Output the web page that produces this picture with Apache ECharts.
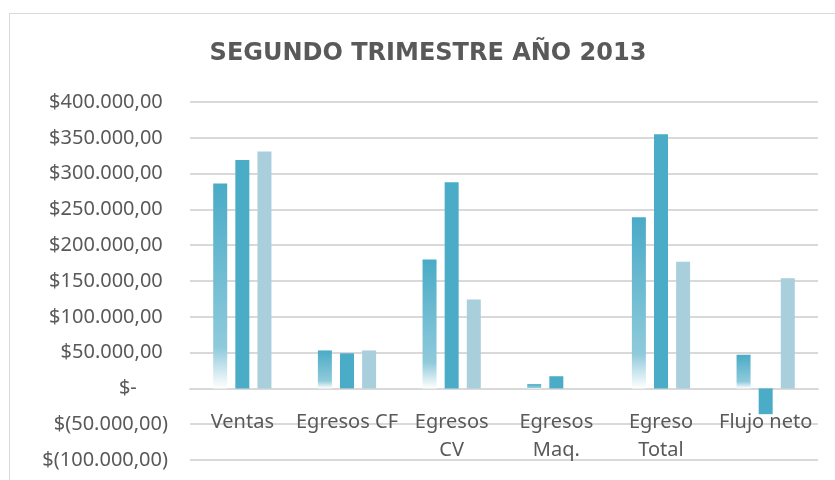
<!DOCTYPE html>
<html>
<head>
<meta charset="utf-8">
<script src="https://cdn.jsdelivr.net/npm/echarts@6/dist/echarts.min.js"></script>
<style>
  html, body { margin: 0; padding: 0; background: #fff; }
  #frame {
    position: absolute; left: 9px; top: 13px; width: 840px; height: 480px;
    border: 1px solid #d9d9d9; box-sizing: border-box;
  }
  #chart { position: absolute; left: 0; top: 0; width: 835px; height: 480px; }
</style>
</head>
<body>
<div id="frame"></div>
<div id="chart"></div>
<script>
// categorias y valores (tres meses del trimestre)
const categories = ['Ventas', 'Egresos CF', 'Egresos\nCV', 'Egresos\nMaq.', 'Egreso\nTotal', 'Flujo neto'];
const mes1 = [286000, 53000, 180000, 6000, 239000, 47000];
const mes2 = [319000, 49000, 288000, 17000, 355000, -36000];
const mes3 = [331000, 53000, 124000, 0, 177000, 154000];

function fmt(v) {
  if (v === 0) return '$-      ';
  const s = Math.abs(v).toString().replace(/\B(?=(\d{3})+(?!\d))/g, '.') + ',00';
  return v < 0 ? '$(' + s + ')' : '$' + s + ' ';
}

const chart = echarts.init(document.getElementById('chart'));
const labelFont = '"Noto Sans", "Open Sans", sans-serif';

chart.setOption({
  animation: false,
  title: {
    text: 'SEGUNDO TRIMESTRE AÑO 2013',
    left: 423, top: 37, textAlign: 'center',
    textStyle: { fontFamily: '"DejaVu Sans", sans-serif', fontSize: 24, fontWeight: 'bold', color: '#595959' }
  },
  grid: { left: 190, right: 17, top: 102, bottom: 20, outerBoundsMode: 'none' },
  xAxis: {
    type: 'category',
    data: categories,
    position: 'bottom',
    offset: -71.5,
    axisLine: { onZero: false, lineStyle: { color: '#d9d9d9', width: 2 } },
    axisTick: { show: false },
    axisLabel: { fontFamily: labelFont, fontSize: 20, color: '#595959', margin: 20, lineHeight: 28, interval: 0 }
  },
  yAxis: {
    type: 'value',
    min: -100000, max: 400000, interval: 50000,
    axisLine: { show: false },
    axisTick: { show: false },
    splitLine: { lineStyle: { color: '#d9d9d9', width: 2 } },
    axisLabel: { formatter: fmt, fontFamily: labelFont, fontSize: 20, color: '#595959', margin: 22 }
  },
  series: [
    {
      type: 'bar', data: mes1, barWidth: 14, barGap: '58%',
      itemStyle: {
        color: {
          type: 'linear', x: 0, y: 0, x2: 0, y2: 1,
          colorStops: [
            { offset: 0, color: '#4aabc6' },
            { offset: 0.8, color: '#8fcadb' },
            { offset: 1, color: '#ffffff' }
          ]
        }
      }
    },
    { type: 'bar', data: mes2, barWidth: 14, itemStyle: { color: '#4aacc6' } },
    { type: 'bar', data: mes3, barWidth: 14, itemStyle: { color: '#a9cfdd' } }
  ]
});
</script>
</body>
</html>
